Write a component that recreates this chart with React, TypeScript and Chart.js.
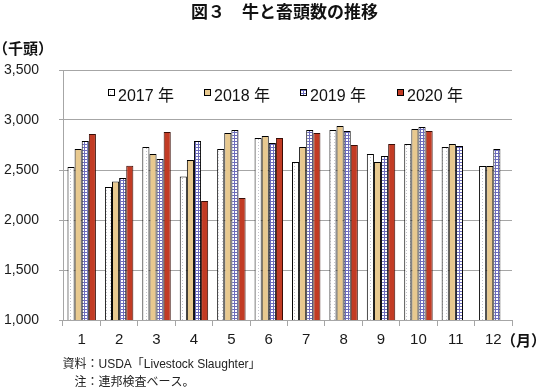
import React, { useEffect, useRef } from "react";
import { Chart, registerables } from "chart.js";

Chart.register(...registerables);

const months = ["1", "2", "3", "4", "5", "6", "7", "8", "9", "10", "11", "12"];
const seriesLabels = ["2017 年", "2018 年", "2019 年", "2020 年"];
const v2017 = [2530, 2330, 2730, 2435, 2710, 2820, 2580, 2900, 2660, 2760, 2730, 2540];
const v2018 = [2710, 2385, 2660, 2600, 2870, 2840, 2730, 2940, 2580, 2910, 2760, 2540];
const v2019 = [2790, 2420, 2610, 2790, 2900, 2770, 2900, 2890, 2640, 2930, 2740, 2710];
const v2020 = [2860, 2543, 2880, 2190, 2220, 2820, 2870, 2750, 2760, 2890, null, null];
const yMin = 1000;
const yMax = 3500;
const yStep = 500;

const titleText = "図３　牛と畜頭数の推移";
const yUnitText = "（千頭）";
const xUnitText = "（月）";
const note1 = "資料：USDA「Livestock Slaughter」";
const note2 = "注：連邦検査ベース。";

function makePattern(kind: string): CanvasPattern | string {
  const c = document.createElement("canvas");
  const g = c.getContext("2d");
  if (!g) return "#fff";
  if (kind === "dots") {
    c.width = 4;
    c.height = 3;
    g.fillStyle = "#ffffff";
    g.fillRect(0, 0, 4, 3);
    g.fillStyle = "#c4c4cc";
    g.fillRect(2, 1, 1, 1);
  } else {
    c.width = 3;
    c.height = 3;
    g.fillStyle = "#ffffff";
    g.fillRect(0, 0, 3, 3);
    g.fillStyle = "#6c6cbc";
    g.fillRect(0, 0, 3, 1);
    g.fillRect(0, 0, 1, 3);
  }
  return g.createPattern(c, "repeat") || "#fff";
}

const textPlugin = {
  id: "extraTexts",
  afterDraw(chart: any) {
    const ctx = chart.ctx as CanvasRenderingContext2D;
    const a = chart.chartArea;
    ctx.save();
    ctx.fillStyle = "#111";
    ctx.textAlign = "left";
    ctx.textBaseline = "middle";
    ctx.font = 'bold 17px "Noto Sans CJK JP", sans-serif';
    ctx.fillText(titleText, 191, 12);
    ctx.font = 'bold 15px "Noto Sans CJK JP", sans-serif';
    ctx.fillText(yUnitText, -7, 48);
    ctx.fillText(xUnitText, 501, 340);
    ctx.font = '12px "Liberation Sans", "Noto Sans CJK JP", sans-serif';
    ctx.fillStyle = "#222";
    ctx.fillText(note1, 62.5, 365);
    ctx.fillText(note2, 74.5, 383);

    // legend inside plot area
    chart.data.datasets.forEach((ds: any, i: number) => {
      const x = Math.round(a.left + 45 + i * 96.2);
      const y = a.top + 19;
      ctx.fillStyle = ds.backgroundColor;
      ctx.fillRect(x, y, 7, 7);
      ctx.strokeStyle = "#000";
      ctx.lineWidth = 1;
      ctx.strokeRect(x + 0.5, y + 0.5, 6, 6);
      ctx.fillStyle = "#111";
      ctx.textBaseline = "alphabetic";
      ctx.font = '16px "Liberation Sans", "Noto Sans CJK JP", sans-serif';
      ctx.fillText(ds.label, x + 10, y + 11.5);
    });
    ctx.restore();
  },
};

export default function App() {
  const ref = useRef<HTMLCanvasElement | null>(null);

  useEffect(() => {
    if (!ref.current) return;
    const pDots = makePattern("dots");
    const pGrid = makePattern("grid");
    const fills = [pDots, "#e8c98f", pGrid, "#c23b24"];
    const borders = ["#000", "#000", "#000", "#3a0d06"];
    const values = [v2017, v2018, v2019, v2020];

    const chart = new Chart(ref.current, {
      type: "bar",
      data: {
        labels: months,
        datasets: values.map((v, i) => ({
          label: seriesLabels[i],
          data: v,
          backgroundColor: fills[i] as any,
          borderColor: borders[i],
          borderWidth: 1,
          categoryPercentage: 0.76,
          barPercentage: 1.0,
        })),
      },
      options: {
        responsive: false,
        animation: false,
        devicePixelRatio: 1,
        layout: { padding: { top: 70, right: 32, bottom: 0, left: 0 } },
        plugins: {
          legend: { display: false },
          title: { display: false },
          tooltip: { enabled: false },
        },
        scales: {
          x: {
            afterFit: (s: any) => {
              s.height = 71;
            },
            grid: {
              display: true,
              drawOnChartArea: false,
              drawTicks: true,
              tickLength: 6,
              color: "#a6a6a6",
              offset: true,
            },
            border: { display: true, color: "#a6a6a6" },
            ticks: {
              color: "#1a1a1a",
              padding: 5,
              font: { family: '"Liberation Sans", sans-serif', size: 15 },
              maxRotation: 0,
            },
          },
          y: {
            min: yMin,
            max: yMax,
            afterFit: (s: any) => {
              s.width = 63;
            },
            grid: {
              color: "#a6a6a6",
              drawTicks: true,
              tickLength: 4,
            },
            border: { display: true, color: "#a6a6a6" },
            ticks: {
              stepSize: yStep,
              color: "#1a1a1a",
              padding: 20,
              font: { family: '"Liberation Sans", sans-serif', size: 14 },
              callback: (v: any) => Number(v).toLocaleString("en-US"),
            },
          },
        },
      },
      plugins: [textPlugin],
    });
    return () => chart.destroy();
  }, []);

  return (
    <div style={{ position: "fixed", left: 0, top: 0, width: 544, height: 391, background: "#fff" }}>
      <canvas ref={ref} width={544} height={391} style={{ display: "block", width: 544, height: 391 }} />
    </div>
  );
}
